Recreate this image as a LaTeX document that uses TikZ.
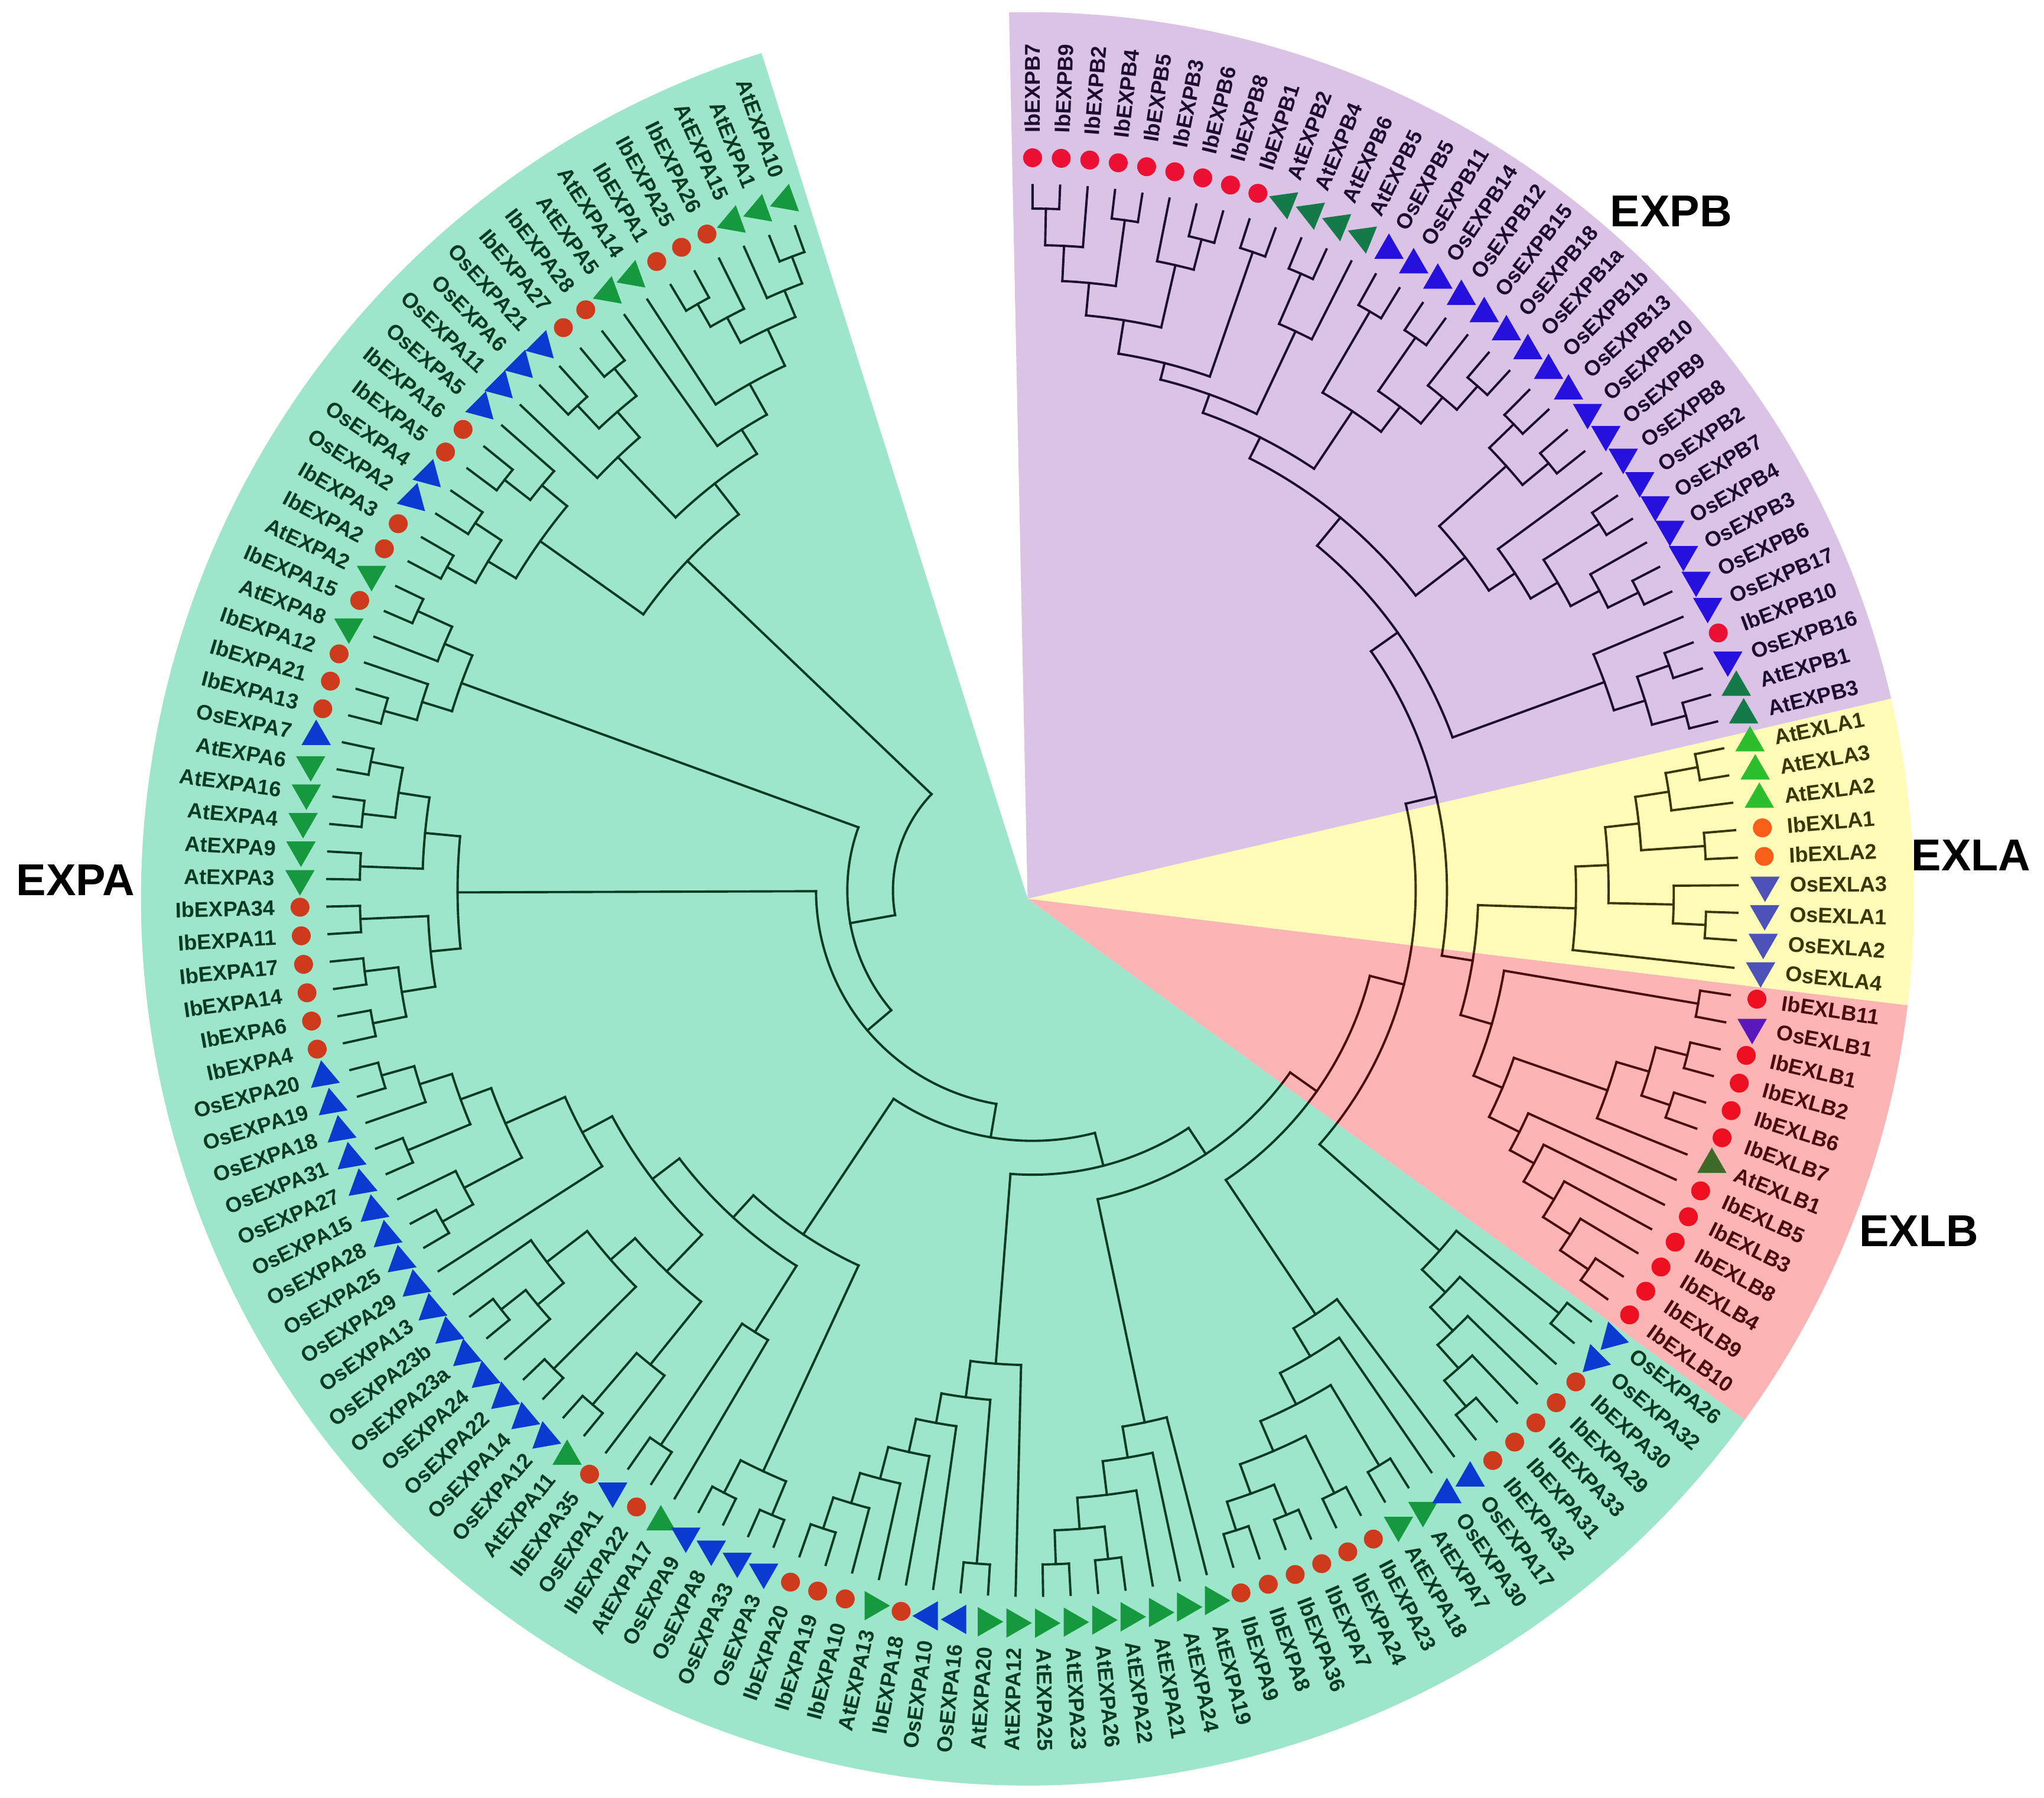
\documentclass[tikz,border=0pt]{standalone}
\usepackage{fontspec}
\setmainfont{Liberation Sans}
\usetikzlibrary{shapes.geometric}

\definecolor{bgPA}{HTML}{9DE5CB}
\definecolor{bgPB}{HTML}{DBC3E5}
\definecolor{bgLA}{HTML}{FFFCB8}
\definecolor{bgLB}{HTML}{FCB4B4}
\definecolor{lnPA}{HTML}{0B3A22}
\definecolor{lnPB}{HTML}{1E0B30}
\definecolor{lnLA}{HTML}{3A3606}
\definecolor{lnLB}{HTML}{4A0C0C}
\definecolor{mkIPA}{HTML}{CD3A1C}
\definecolor{mkAPA}{HTML}{16983E}
\definecolor{mkOPA}{HTML}{0B3AD0}
\definecolor{mkIPB}{HTML}{EC1035}
\definecolor{mkAPB}{HTML}{157A4A}
\definecolor{mkOPB}{HTML}{2610DE}
\definecolor{mkILA}{HTML}{F8601A}
\definecolor{mkALA}{HTML}{2DBE2D}
\definecolor{mkOLA}{HTML}{4C52B8}
\definecolor{mkILB}{HTML}{EE1020}
\definecolor{mkALB}{HTML}{3E6A2A}
\definecolor{mkOLB}{HTML}{5A18BC}

\tikzset{
  dot/.style={circle, inner sep=0pt, minimum size=0.29cm},
  tri/.style={regular polygon, regular polygon sides=3, inner sep=0pt, minimum size=0.52cm},
  lab/.style={inner sep=0pt, font=\fontsize{9.3}{10}\selectfont\bfseries},
  grplab/.style={inner sep=0pt, font=\fontsize{19.5}{22}\selectfont\bfseries},
  branch/.style={draw=black, line width=1pt, line cap=rect}
}

% tree node store: angle (deg) and radius (px, 50px = 1cm)
\makeatletter
\newcommand\setnode[3]{\expandafter\xdef\csname tna@#1\endcsname{#2}\expandafter\xdef\csname tnr@#1\endcsname{#3}}
\newcommand\getang[1]{\csname tna@#1\endcsname}
\newcommand\getrad[1]{\csname tnr@#1\endcsname}
\makeatother

% \clade{name}{radius}{children}
\newcommand\clade[3]{%
  \pgfmathsetmacro\crr{#2/50}%
  \xdef\amin{1000}\xdef\amax{-1000}%
  \foreach \ch in {#3}{%
    \pgfmathsetmacro\cang{\getang{\ch}}%
    \pgfmathsetmacro\crad{\getrad{\ch}/50}%
    \draw[branch] (\cang:\crr) -- (\cang:\crad);%
    \pgfmathsetmacro\tmp{min(\amin,\cang)}\xdef\amin{\tmp}%
    \pgfmathsetmacro\tmp{max(\amax,\cang)}\xdef\amax{\tmp}%
  }%
  \draw[branch] (\amin:\crr) arc[start angle=\amin, end angle=\amax, radius=\crr];%
  \pgfmathsetmacro\tmp{(\amin+\amax)/2}%
  \setnode{#1}{\tmp}{#2}%
}

\newcommand\drawtree{%
  % EXPA top
  \clade{p01}{520}{0,1}
  \clade{p012}{498}{p01,2}
  \clade{p45}{518}{4,5}
  \clade{p345}{498}{3,p45}
  \clade{ta1}{476}{p012,p345}
  \clade{ta2}{445}{ta1,6}
  \clade{ta3}{418}{ta2,7}
  \clade{p89}{513}{8,9}
  \clade{p1011}{510}{10,11}
  \clade{tb1}{486}{p89,p1011}
  \clade{tb2}{460}{tb1,12}
  \clade{tla}{396}{ta3,tb2}
  \clade{p1415}{513}{14,15}
  \clade{tc1}{488}{13,p1415}
  \clade{p1617}{512}{16,17}
  \clade{p1819}{513}{18,19}
  \clade{tc2}{488}{p1617,p1819}
  \clade{tlb}{463}{tc1,tc2}
  \clade{tl}{366}{tla,tlb}
  \clade{p2021}{518}{20,21}
  \clade{c2a}{489}{p2021,22}
  \clade{p2425}{516}{24,25}
  \clade{c2b}{490}{23,p2425}
  \clade{c2}{466}{c2a,c2b}
  % EXPA left
  \clade{p2627}{517}{26,27}
  \clade{p2829}{517}{28,29}
  \clade{c3a1}{492}{p2627,p2829}
  \clade{p3031}{516}{30,31}
  \clade{c3a}{468}{c3a1,p3031}
  \clade{p3233}{516}{32,33}
  \clade{p3435}{516}{34,35}
  \clade{p3637}{516}{36,37}
  \clade{c3b1}{490}{p3435,p3637}
  \clade{c3b}{464}{p3233,c3b1}
  \clade{c3}{441}{c3a,c3b}
  % EXPA lower left
  \clade{p3839}{519}{38,39}
  \clade{o1}{493}{p3839,40}
  \clade{p4142}{519}{41,42}
  \clade{o2}{467}{o1,p4142}
  \clade{p4445}{519}{44,45}
  \clade{o3}{492}{43,p4445}
  \clade{o4}{442}{o2,o3}
  \clade{o5}{392}{o4,46}
  \clade{p4849}{519}{48,49}
  \clade{o6}{495}{p4849,50}
  \clade{o7}{469}{47,o6}
  \clade{p5152}{519}{51,52}
  \clade{osl}{430}{o7,p5152}
  \clade{p5354}{519}{53,54}
  \clade{q1}{467}{p5354,55}
  \clade{yq}{405}{osl,q1}
  \clade{osall}{366}{o5,yq}
  \clade{p5657}{512}{56,57}
  \clade{q3}{400}{p5657,58}
  \clade{c4x}{340}{osall,q3}
  \clade{p5960}{519}{59,60}
  \clade{p6162}{519}{61,62}
  \clade{q4}{491}{p5960,p6162}
  \clade{c4}{317}{c4x,q4}
  % EXPA bottom
  \clade{p6364}{515}{63,64}
  \clade{s1}{490}{p6364,65}
  \clade{s2}{466}{s1,66}
  \clade{s3}{441}{s2,67}
  \clade{s4}{415}{s3,68}
  \clade{p6970}{518}{69,70}
  \clade{s5}{392}{s4,p6970}
  \clade{c5}{364}{s5,71}
  \clade{p7273}{517}{72,73}
  \clade{p7475}{516}{74,75}
  \clade{u1}{491}{p7273,p7475}
  \clade{u2}{467}{u1,76}
  \clade{u3}{441}{u2,77}
  \clade{c6}{417}{u3,78}
  \clade{p7980}{515}{79,80}
  \clade{p8182}{517}{81,82}
  \clade{v1}{492}{p7980,p8182}
  \clade{p8384}{517}{83,84}
  \clade{v2}{468}{v1,p8384}
  \clade{p8586}{515}{85,86}
  \clade{v3}{443}{v2,p8586}
  \clade{v4}{416}{v3,87}
  \clade{c7}{391}{v4,88}
  \clade{p8990}{517}{89,90}
  \clade{w1}{491}{p8990,91}
  \clade{w2}{467}{w1,92}
  \clade{w3}{442}{w2,93}
  \clade{p9495}{518}{94,95}
  \clade{c8}{417}{w3,p9495}
  % EXLB
  \clade{p9697}{516}{96,97}
  \clade{x1}{490}{p9697,98}
  \clade{x2}{465}{x1,99}
  \clade{x3}{438}{x2,100}
  \clade{x4}{417}{x3,101}
  \clade{p103104}{516}{103,104}
  \clade{p105106}{518}{105,106}
  \clade{x5}{493}{p103104,p105106}
  \clade{x6}{467}{x5,102}
  \clade{x7}{391}{x4,x6}
  \clade{p107108}{518}{107,108}
  \clade{exlb}{367}{x7,p107108}
  % EXLA
  \clade{p110111}{517}{110,111}
  \clade{y1}{492}{112,p110111}
  \clade{p113114}{517}{113,114}
  \clade{p116117}{519}{116,117}
  \clade{y2}{494}{p116117,115}
  \clade{y3}{468}{y2,p113114}
  \clade{y4}{442}{y3,y1}
  \clade{exla}{417}{y4,109}
  % EXPB
  \clade{p118119}{519}{118,119}
  \clade{p120121}{518}{120,121}
  \clade{z1}{492}{p118119,p120121}
  \clade{exps}{467}{z1,122}
  \clade{p123124}{518}{123,124}
  \clade{z2}{492}{p123124,125}
  \clade{p126127}{518}{126,127}
  \clade{z3}{467}{z2,p126127}
  \clade{z4}{443}{z3,128}
  \clade{p129130}{514}{129,130}
  \clade{p131132}{514}{131,132}
  \clade{z5}{488}{p129130,p131132}
  \clade{z6}{419}{z4,z5}
  \clade{p133134}{516}{133,134}
  \clade{z7}{492}{p133134,135}
  \clade{p136137}{516}{136,137}
  \clade{z8}{466}{z7,p136137}
  \clade{p138139}{514}{138,139}
  \clade{z9}{442}{z8,p138139}
  \clade{p141142}{516}{141,142}
  \clade{z10}{474}{140,p141142}
  \clade{p143144}{518}{143,144}
  \clade{p145146}{516}{145,146}
  \clade{z11}{492}{147,p145146}
  \clade{p148149}{519}{148,149}
  \clade{p151152}{523}{151,152}
  \clade{z12}{495}{150,p151152}
  \clade{z13}{468}{p148149,z12}
  \clade{z14}{443}{z13,z11}
  \clade{z15}{417}{z14,p143144}
  \clade{z16}{404}{z15,z10}
  \clade{expup}{389}{z9,z16}
  \clade{expmain}{371}{z6,expup}
  \clade{expb}{343}{exps,expmain}
  % backbone
  \clade{nl}{342}{exlb,exla}
  \clade{n9}{318}{nl,expb}
  \clade{n8}{294}{c8,n9}
  \clade{n7}{267}{c7,n8}
  \clade{n6}{242}{c6,n7}
  \clade{n5}{218}{c5,n6}
  \clade{n4}{192}{c4,n5}
  \clade{n3}{166}{c3,n4}
  \clade{n2}{142}{c2,n3}
  \clade{n1}{107}{tl,n2}
}

\begin{document}
\begin{tikzpicture}
\useasboundingbox (-15.84,-13.92) rectangle (15.52,13.66);

% coloured sectors
\fill[bgPA] (-0.074,-0.126) -- ++(107.47:13.6) arc[start angle=107.47, end angle=324, radius=13.6] -- cycle;
\fill[bgLB] (-0.074,-0.126) -- ++(324:13.6) arc[start angle=324, end angle=353.1, radius=13.6] -- cycle;
\fill[bgLA] (-0.074,-0.126) -- ++(353.1:13.6) arc[start angle=353.1, end angle=373.05, radius=13.6] -- cycle;
\fill[bgPB] (-0.074,-0.126) -- ++(373.05:13.6) arc[start angle=373.05, end angle=451.2, radius=13.6] -- cycle;

% leaves
\foreach \i in {0,...,152}{
  \pgfmathsetmacro\a{109.66+2.239*\i}
  \setnode{\i}{\a}{541}
}

% tree, tinted per sector
\begin{scope}
  \clip (-0.074,-0.126) -- ++(107.47:14) arc[start angle=107.47, end angle=324, radius=14] -- cycle;
  \tikzset{branch/.style={draw=lnPA, line width=1pt, line cap=rect}}
  \drawtree
\end{scope}
\begin{scope}
  \clip (-0.074,-0.126) -- ++(324:14) arc[start angle=324, end angle=353.1, radius=14] -- cycle;
  \tikzset{branch/.style={draw=lnLB, line width=1pt, line cap=rect}}
  \drawtree
\end{scope}
\begin{scope}
  \clip (-0.074,-0.126) -- ++(353.1:14) arc[start angle=353.1, end angle=373.05, radius=14] -- cycle;
  \tikzset{branch/.style={draw=lnLA, line width=1pt, line cap=rect}}
  \drawtree
\end{scope}
\begin{scope}
  \clip (-0.074,-0.126) -- ++(373.05:14) arc[start angle=373.05, end angle=451.2, radius=14] -- cycle;
  \tikzset{branch/.style={draw=lnPB, line width=1pt, line cap=rect}}
  \drawtree
\end{scope}

% markers and labels
\foreach \nm/\tp/\ro [count=\i from 0] in {
  AtEXPA10/A/-10, AtEXPA1/A/-10, AtEXPA15/A/-10, IbEXPA26/I/0, IbEXPA25/I/0,
  IbEXPA1/I/0, AtEXPA14/A/-10, AtEXPA5/A/-10, IbEXPA28/I/0, IbEXPA27/I/0,
  OsEXPA21/O/-15, OsEXPA6/O/-15, OsEXPA11/O/-15, OsEXPA5/O/-15, IbEXPA16/I/0,
  IbEXPA5/I/0, OsEXPA4/O/-15, OsEXPA2/O/-15, IbEXPA3/I/0, IbEXPA2/I/0,
  AtEXPA2/A/180, IbEXPA15/I/0, AtEXPA8/A/180, IbEXPA12/I/0, IbEXPA21/I/0,
  IbEXPA13/I/0, OsEXPA7/O/0, AtEXPA6/A/180, AtEXPA16/A/180, AtEXPA4/A/180,
  AtEXPA9/A/180, AtEXPA3/A/180, IbEXPA34/I/0, IbEXPA11/I/0, IbEXPA17/I/0,
  IbEXPA14/I/0, IbEXPA6/I/0, IbEXPA4/I/0, OsEXPA20/O/10, OsEXPA19/O/10,
  OsEXPA18/O/10, OsEXPA31/O/10, OsEXPA27/O/10, OsEXPA15/O/10, OsEXPA28/O/10,
  OsEXPA25/O/10, OsEXPA29/O/10, OsEXPA13/O/10, OsEXPA23b/O/10, OsEXPA23a/O/10,
  OsEXPA24/O/10, OsEXPA22/O/10, OsEXPA14/O/10, OsEXPA12/O/10, AtEXPA11/A/0,
  IbEXPA35/I/0, OsEXPA1/O/180, IbEXPA22/I/0, AtEXPA17/A/0, OsEXPA9/O/180,
  OsEXPA8/O/180, OsEXPA33/O/180, OsEXPA3/O/180, IbEXPA20/I/0, IbEXPA19/I/0,
  IbEXPA10/I/0, AtEXPA13/A/-90, IbEXPA18/I/0, OsEXPA10/O/90, OsEXPA16/O/90,
  AtEXPA20/A/-90, AtEXPA12/A/-90, AtEXPA25/A/-90, AtEXPA23/A/-90, AtEXPA26/A/-90,
  AtEXPA22/A/-90, AtEXPA21/A/-90, AtEXPA24/A/-90, AtEXPA19/A/-90, IbEXPA9/I/0,
  IbEXPA8/I/0, IbEXPA36/I/0, IbEXPA7/I/0, IbEXPA24/I/0, IbEXPA23/I/0,
  AtEXPA18/A/180, AtEXPA7/A/180, OsEXPA30/O/0, OsEXPA17/O/0, IbEXPA32/I/0,
  IbEXPA31/I/0, IbEXPA33/I/0, IbEXPA29/I/0, IbEXPA30/I/0, OsEXPA32/O/15,
  OsEXPA26/O/15,
  IbEXLB10/I/0, IbEXLB9/I/0, IbEXLB4/I/0, IbEXLB8/I/0, IbEXLB3/I/0,
  IbEXLB5/I/0, AtEXLB1/A/0, IbEXLB7/I/0, IbEXLB6/I/0, IbEXLB2/I/0,
  IbEXLB1/I/0, OsEXLB1/O/180, IbEXLB11/I/0,
  OsEXLA4/O/180, OsEXLA2/O/180, OsEXLA1/O/180, OsEXLA3/O/180, IbEXLA2/I/0,
  IbEXLA1/I/0, AtEXLA2/A/0, AtEXLA3/A/0, AtEXLA1/A/0,
  AtEXPB3/A/0, AtEXPB1/A/0, OsEXPB16/O/180, IbEXPB10/I/0, OsEXPB17/O/180,
  OsEXPB6/O/180, OsEXPB3/O/180, OsEXPB4/O/180, OsEXPB7/O/180, OsEXPB2/O/180,
  OsEXPB8/O/180, OsEXPB9/O/180, OsEXPB10/O/180, OsEXPB13/O/0, OsEXPB1b/O/0,
  OsEXPB1a/O/0, OsEXPB18/O/0, OsEXPB15/O/0, OsEXPB12/O/0, OsEXPB14/O/0,
  OsEXPB11/O/0, OsEXPB5/O/0, AtEXPB5/A/188, AtEXPB6/A/188, AtEXPB4/A/188,
  AtEXPB2/A/188, IbEXPB1/I/0, IbEXPB8/I/0, IbEXPB6/I/0, IbEXPB3/I/0,
  IbEXPB5/I/0, IbEXPB4/I/0, IbEXPB2/I/0, IbEXPB9/I/0, IbEXPB7/I/0}{
  \pgfmathsetmacro\a{109.66+2.239*\i}
  \ifnum\i<96 \def\grp{PA}\else\ifnum\i<109 \def\grp{LB}\else\ifnum\i<118 \def\grp{LA}\else\def\grp{PB}\fi\fi\fi
  \if\tp I
    \node[dot, fill=mk\tp\grp] (m\i) at (\a:11.24) {};
  \else
    \node[tri, fill=mk\tp\grp, rotate=\ro] (m\i) at (\a:11.24) {};
  \fi
  \pgfmathtruncatemacro\side{(\a>90 && \a<270) ? 1 : 0}
  \ifnum\side=1
    \pgfmathsetmacro\rot{\a-180}
    \node[lab, text=ln\grp, anchor=east, rotate=\rot] (l\i) at (\a:11.62) {\nm};
  \else
    \node[lab, text=ln\grp, anchor=west, rotate=\a] (l\i) at (\a:11.62) {\nm};
  \fi
}

% group names
\node[grplab] (gEXPA) at (-14.68,0.16) {EXPA};
\node[grplab] (gEXPB) at (9.8,10.42) {EXPB};
\node[grplab] (gEXLA) at (14.4,0.54) {EXLA};
\node[grplab] (gEXLB) at (13.6,-5.22) {EXLB};
\end{tikzpicture}
\end{document}
